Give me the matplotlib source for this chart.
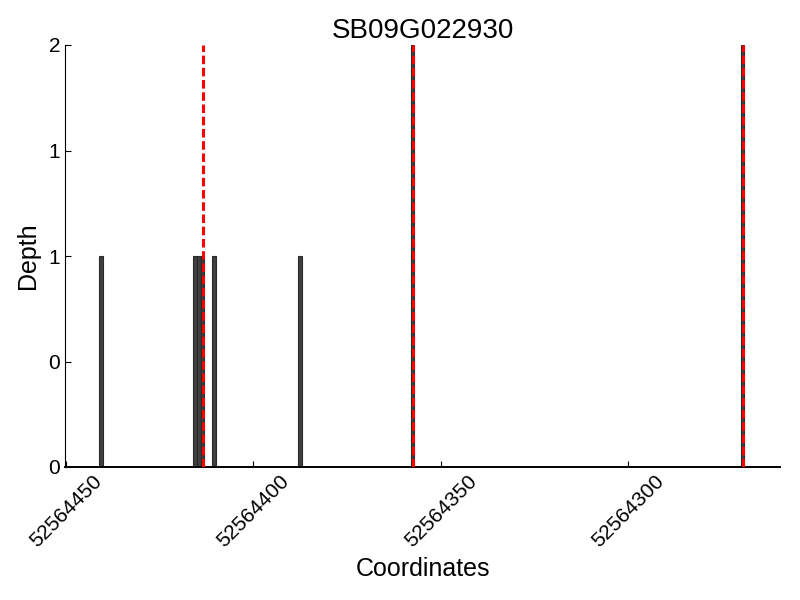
import matplotlib
matplotlib.use("Agg")
import matplotlib.pyplot as plt
from matplotlib.ticker import FormatStrFormatter

plt.rcParams['font.family'] = ['Liberation Sans', 'DejaVu Sans']

title = "SB09G022930"
positions = [52564440, 52564415, 52564414, 52564413, 52564410, 52564387, 52564357, 52564269]
depths = [1, 1, 1, 1, 1, 1, 2, 2]
snp_positions = [52564413, 52564357, 52564269]
xticks = [52564450, 52564400, 52564350, 52564300]
yticks = [0, 0.5, 1, 1.5, 2]

fig = plt.figure(figsize=(8, 6), dpi=100)
ax = fig.add_axes([65/800, 1-467/600, 715/800, 422/600])

ax.bar(positions, depths, width=1, align='edge', color='#404040',
       edgecolor='#2a2a2a', linewidth=0.8, zorder=2)
for p in snp_positions:
    ax.axvline(p + 0.4, color='red', linestyle=(0, (2.8, 1.2)), linewidth=2.2, zorder=3)

ax.set_xlim(52564450.2, 52564259.5)
ax.set_ylim(0, 2)
ax.set_xticks(xticks)
ax.set_xticklabels([str(t) for t in xticks], rotation=45, fontsize=15)
ax.set_yticks(yticks)
ax.yaxis.set_major_formatter(FormatStrFormatter('%d'))
ax.tick_params(axis='y', labelsize=15)
ax.tick_params(direction='in', length=4, width=0.8, top=False, right=False)

ax.spines['top'].set_visible(False)
ax.spines['right'].set_visible(False)
ax.spines['left'].set_linewidth(0.8)
ax.spines['bottom'].set_linewidth(1.4)

ax.set_title(title, fontsize=20, pad=5)
ax.set_xlabel("Coordinates", fontsize=18)
ax.set_ylabel("Depth", fontsize=18, labelpad=6)

fig.savefig("out.png", dpi=100)
